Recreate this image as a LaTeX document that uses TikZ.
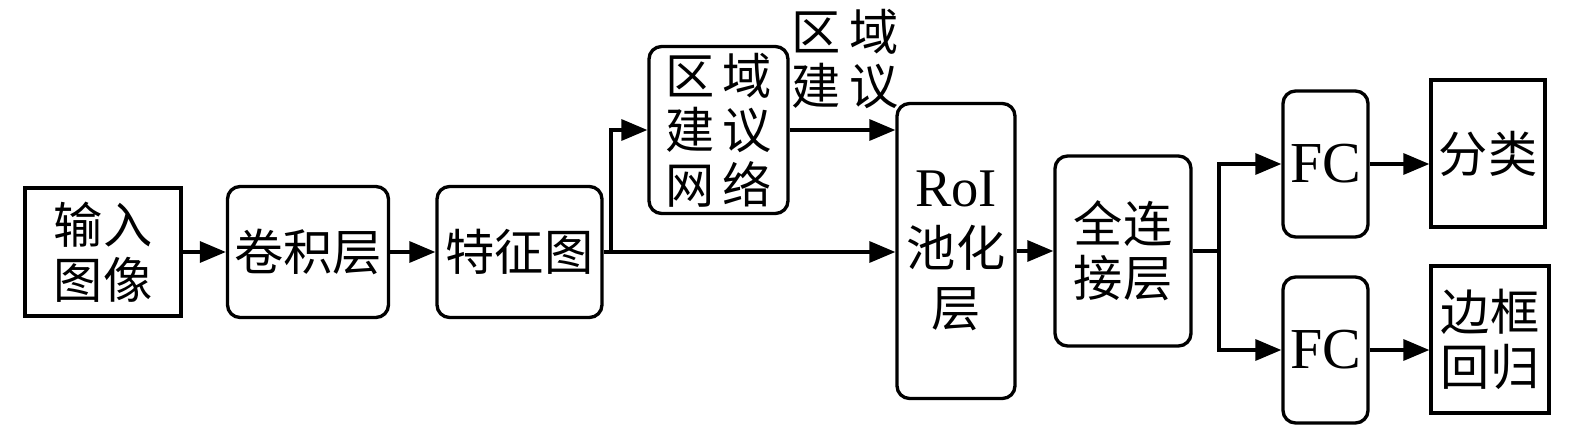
\documentclass[tikz,border=0pt]{standalone}
\usepackage{fontspec}
\setmainfont{Liberation Serif}
\newfontfamily\cjk{Noto Sans CJK SC}
\usepackage{tikz}
\usetikzlibrary{positioning,arrows.meta,calc}

\begin{document}
\begin{tikzpicture}[
    x=0.02cm, y=-0.02cm,
    box/.style={draw, line width=1.9pt, align=center, inner sep=0pt, font=\cjk\fontsize{28}{31}\selectfont},
    rbox/.style={box, rounded corners=0.25cm},
    arrow/.style={-{Triangle[length=0.52cm, width=0.42cm]}, line width=1.9pt},
    line/.style={line width=1.9pt}
]
\useasboundingbox (0,0) rectangle (1575,429);

% Backbone
\node[box, minimum width=3.12cm, minimum height=2.56cm] (in) at (103, 252) {输入\\图像};
\node[rbox, minimum width=3.22cm, minimum height=2.62cm] (conv) at (308, 252) {卷积层};
\node[rbox, minimum width=3.3cm, minimum height=2.62cm] (feat) at (519.5, 252) {特征图};

\draw[arrow] (in) -- (conv);
\draw[arrow] (conv) -- (feat);

% Region proposal branch
\node[rbox, minimum width=2.78cm, minimum height=3.34cm, font=\cjk\fontsize{28}{31}\selectfont] (rpn) at (718.5, 130) {区\,域\\建\,议\\网\,络};
\node[font=\cjk\fontsize{28}{31}\selectfont, align=center, inner sep=0pt] (prop) at (845, 59) {区\,域\\建\,议};
\node[rbox, minimum width=2.36cm, minimum height=5.9cm, font=\cjk\fontsize{28}{34}\selectfont] (roi) at (956, 251) {{\rmfamily\fontsize{31}{34}\selectfont RoI}\\池化\\层};

\coordinate (split) at (611, 252);
\draw[line] (feat.east) -- (split);
\draw[arrow] (split) -- (split -| roi.west);
\draw[arrow] (split) |- (rpn.west);
\draw[arrow] (rpn.east) -- (rpn.east -| roi.west);

% Head
\node[rbox, minimum width=2.72cm, minimum height=3.8cm] (fcl) at (1123, 251) {全连\\接层};
\node[rbox, minimum width=1.7cm, minimum height=2.92cm, font=\fontsize{33}{36}\selectfont] (fc1) at (1325.5, 164) {FC};
\node[rbox, minimum width=1.7cm, minimum height=2.92cm, font=\fontsize{33}{36}\selectfont] (fc2) at (1325.5, 350) {FC};
\node[box, minimum width=2.28cm, minimum height=2.94cm] (cls) at (1488, 153.5) {分类};
\node[box, minimum width=2.36cm, minimum height=2.94cm] (reg) at (1490, 339.5) {边框\\回归};

\draw[arrow] (roi.east |- fcl) -- (fcl);
\coordinate (fork) at (1219, 251);
\draw[line] (fcl.east) -- (fork);
\draw[arrow] (fork) |- (fc1.west);
\draw[arrow] (fork) |- (fc2.west);
\draw[arrow] (fc1.east) -- (fc1.east -| cls.west);
\draw[arrow] (fc2.east) -- (fc2.east -| reg.west);

\end{tikzpicture}
\end{document}
